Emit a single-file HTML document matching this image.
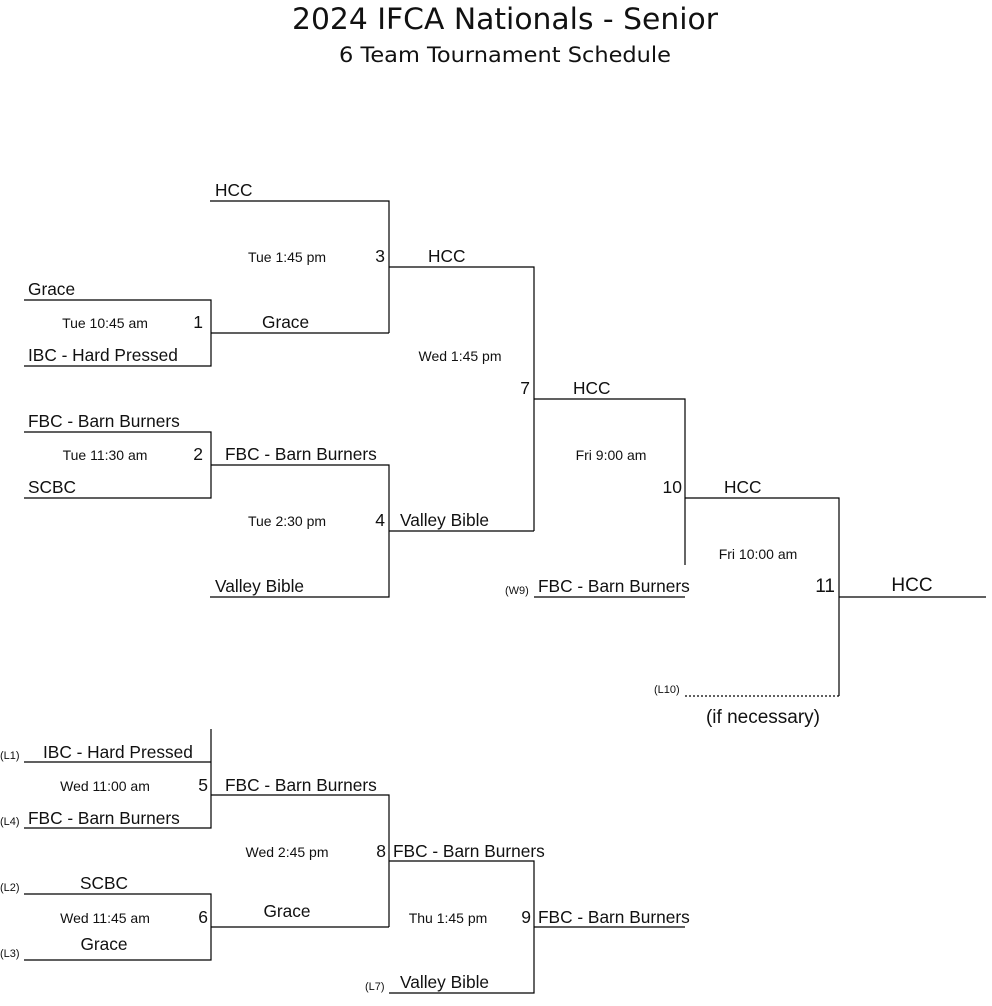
<!DOCTYPE html>
<html><head><meta charset="utf-8"><style>
html,body{margin:0;padding:0;background:#fff;}
svg{display:block}
text{font-family:"Liberation Sans",Arial,sans-serif;fill:#111}
.t{font-size:17.3px}
.s{font-size:14px}
.n{font-size:17.5px}
.x{font-size:11px}
.b{font-size:19px}
.h{font-family:"DejaVu Sans","Liberation Sans",sans-serif}
</style></head><body>
<svg width="992" height="1006" viewBox="0 0 992 1006" xmlns="http://www.w3.org/2000/svg">
<text class="h" x="505" y="29" font-size="29" text-anchor="middle" textLength="426" lengthAdjust="spacingAndGlyphs">2024 IFCA Nationals - Senior</text>
<text class="h" x="505" y="62" font-size="21" text-anchor="middle" textLength="332" lengthAdjust="spacingAndGlyphs">6 Team Tournament Schedule</text>
<g stroke="#000" stroke-width="1.2" fill="none">
<path d="M210 201H389V333M24 300H211V366H24M211 333H389M389 267H534V531M24 432H211V498H24M211 465H389V597H210M389 531H534M534 399H685V565M534 597H685M685 498H839V696M839 597H986"/>
<path d="M685 696H839" stroke-dasharray="2,2"/>
<path d="M211 729V828H24M24 762H211M211 795H389V927M24 894H211V960H24M211 927H389M389 861H534V993H389M534 927H685"/>
</g>
<text class="t" x="215" y="196">HCC</text>
<text class="s" x="287" y="262" text-anchor="middle">Tue 1:45 pm</text>
<text class="n" x="385" y="262" text-anchor="end">3</text>
<text class="t" x="428" y="262">HCC</text>
<text class="t" x="28" y="295">Grace</text>
<text class="s" x="105" y="328" text-anchor="middle">Tue 10:45 am</text>
<text class="n" x="203" y="328" text-anchor="end">1</text>
<text class="t" x="262" y="328">Grace</text>
<text class="t" x="28" y="361">IBC - Hard Pressed</text>
<text class="s" x="460" y="361" text-anchor="middle">Wed 1:45 pm</text>
<text class="n" x="530" y="394" text-anchor="end">7</text>
<text class="t" x="573" y="394">HCC</text>
<text class="t" x="28" y="427">FBC - Barn Burners</text>
<text class="s" x="105" y="460" text-anchor="middle">Tue 11:30 am</text>
<text class="n" x="203" y="460" text-anchor="end">2</text>
<text class="t" x="225" y="460">FBC - Barn Burners</text>
<text class="s" x="611" y="460" text-anchor="middle">Fri 9:00 am</text>
<text class="t" x="28" y="493">SCBC</text>
<text class="n" x="682" y="493" text-anchor="end">10</text>
<text class="t" x="724" y="493">HCC</text>
<text class="s" x="287" y="526" text-anchor="middle">Tue 2:30 pm</text>
<text class="n" x="385" y="526" text-anchor="end">4</text>
<text class="t" x="400" y="526">Valley Bible</text>
<text class="s" x="758" y="559" text-anchor="middle">Fri 10:00 am</text>
<text class="t" x="215" y="592">Valley Bible</text>
<text class="x" x="505" y="594">(W9)</text>
<text class="t" x="538" y="592">FBC - Barn Burners</text>
<text class="b" x="835" y="592" text-anchor="end">11</text>
<text class="b" x="912" y="591" text-anchor="middle">HCC</text>
<text class="x" x="654" y="693">(L10)</text>
<text class="b" x="763" y="723" text-anchor="middle">(if necessary)</text>
<text class="x" x="0" y="759">(L1)</text>
<text class="t" x="43" y="758">IBC - Hard Pressed</text>
<text class="s" x="105" y="791" text-anchor="middle">Wed 11:00 am</text>
<text class="n" x="208" y="791" text-anchor="end">5</text>
<text class="t" x="225" y="791">FBC - Barn Burners</text>
<text class="x" x="0" y="825">(L4)</text>
<text class="t" x="28" y="824">FBC - Barn Burners</text>
<text class="s" x="287" y="857" text-anchor="middle">Wed 2:45 pm</text>
<text class="n" x="386" y="857" text-anchor="end">8</text>
<text class="t" x="393" y="857">FBC - Barn Burners</text>
<text class="x" x="0" y="891">(L2)</text>
<text class="t" x="104" y="889" text-anchor="middle">SCBC</text>
<text class="s" x="105" y="923" text-anchor="middle">Wed 11:45 am</text>
<text class="n" x="208" y="923" text-anchor="end">6</text>
<text class="t" x="287" y="917" text-anchor="middle">Grace</text>
<text class="s" x="448" y="923" text-anchor="middle">Thu 1:45 pm</text>
<text class="n" x="531" y="923" text-anchor="end">9</text>
<text class="t" x="538" y="923">FBC - Barn Burners</text>
<text class="x" x="0" y="957">(L3)</text>
<text class="t" x="104" y="950" text-anchor="middle">Grace</text>
<text class="x" x="365" y="990">(L7)</text>
<text class="t" x="400" y="988">Valley Bible</text>
</svg>
</body></html>
